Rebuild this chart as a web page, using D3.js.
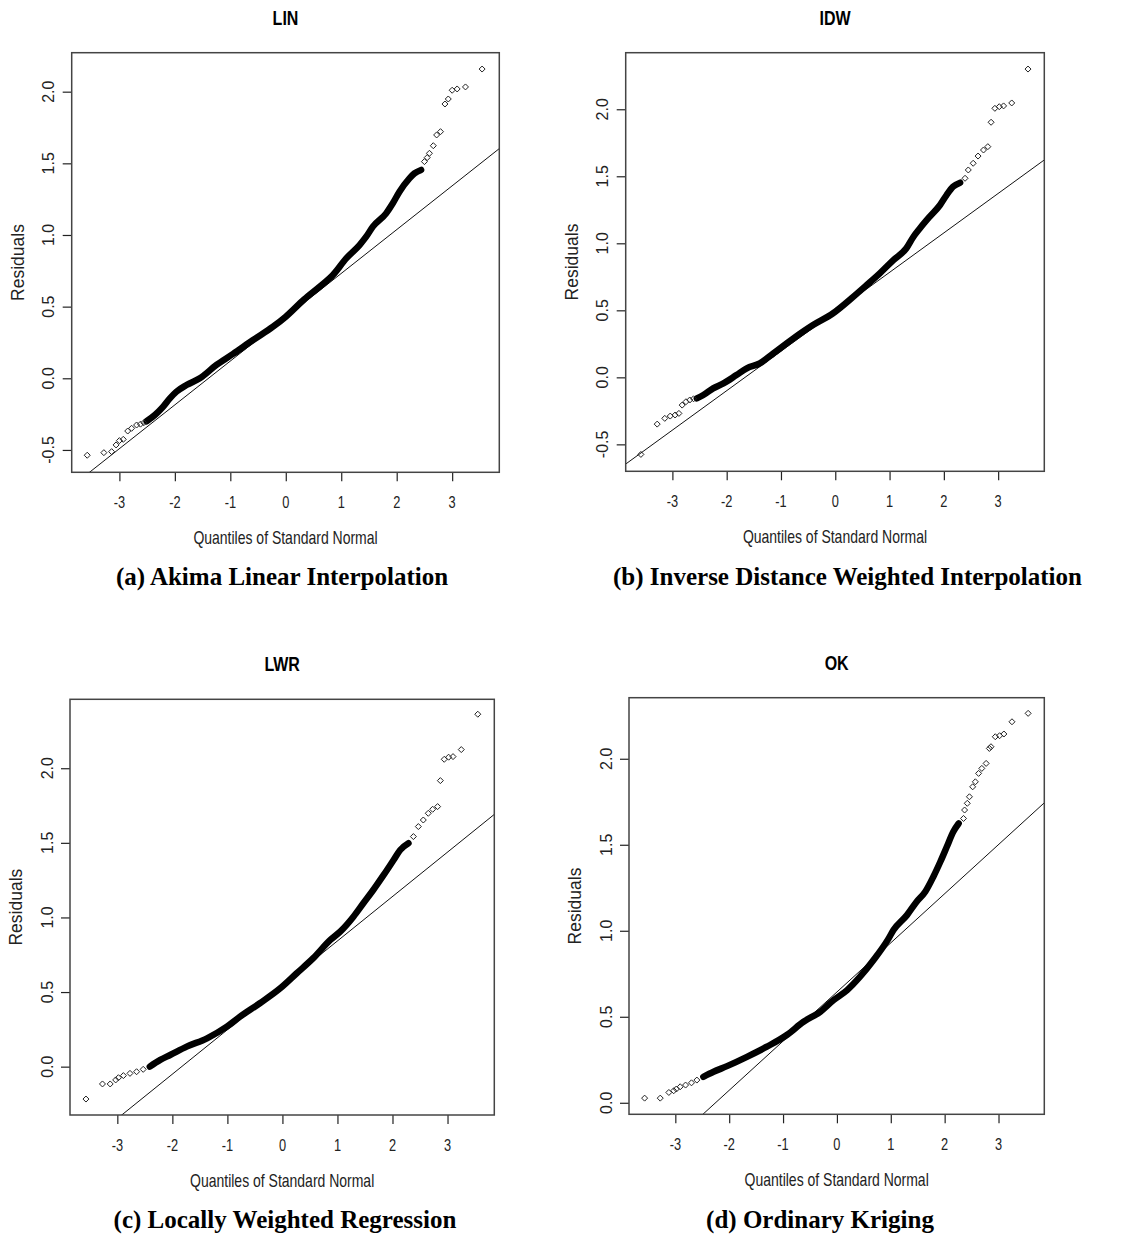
<!DOCTYPE html>
<html>
<head>
<meta charset="utf-8">
<script src="https://cdn.jsdelivr.net/npm/d3@7"></script>
<style>
  body { margin: 0; background: #fff; }
  svg { display: block; }
</style>
</head>
<body>
<svg id="chart" width="1132" height="1236"></svg>
<script>
// ---- data ----
const panelTitles = ["LIN", "IDW", "LWR", "OK"];
const captions = [
    "(a) Akima Linear Interpolation",
    "(b) Inverse Distance Weighted Interpolation",
    "(c) Locally Weighted Regression",
    "(d) Ordinary Kriging"
];
const xTicks = [-3, -2, -1, 0, 1, 2, 3];
const yTicksLIN = [-0.5, 0, 0.5, 1, 1.5, 2];
const yTicksIDW = [-0.5, 0, 0.5, 1, 1.5, 2];
const yTicksLWR = [0, 0.5, 1, 1.5, 2];
const yTicksOK = [0, 0.5, 1, 1.5, 2];

// [quantile, residual] – the dense run of overlapping markers
const linDense = [[-2.51,-0.30],[-2.36,-0.256],[-2.21,-0.198],[-2.09,-0.14],[-1.97,-0.093],[-1.79,-0.047],[-1.55,0.0],[-1.25,0.093],[-0.95,0.17],[-0.59,0.267],[-0.23,0.36],[0.0,0.43],[0.33,0.55],[0.61,0.639],[0.85,0.721],[1.09,0.837],[1.33,0.93],[1.45,0.988],[1.57,1.058],[1.81,1.151],[1.93,1.221],[2.05,1.302],[2.23,1.395],[2.32,1.43],[2.44,1.454]];
const linTail = [[-3.58,-0.537],[-3.28,-0.519],[-3.14,-0.512],[-3.06,-0.465],[-3.00,-0.435],[-2.93,-0.426],[-2.85,-0.368],[-2.78,-0.349],[-2.69,-0.326],[-2.62,-0.32],[-2.56,-0.31],
    [2.50,1.512],[2.55,1.54],[2.59,1.57],[2.66,1.623],[2.72,1.698],[2.79,1.721],[2.87,1.914],[2.93,1.949],[3.00,2.01],[3.09,2.019],[3.24,2.033],[3.54,2.158]];
const linLine = [0.426, 0.3057]; // intercept, slope

const idwDense = [[-2.55,-0.157],[-2.43,-0.132],[-2.25,-0.082],[-2.06,-0.045],[-1.82,0.017],[-1.63,0.067],[-1.39,0.104],[-1.14,0.179],[-0.77,0.291],[-0.41,0.39],[-0.04,0.478],[0.30,0.59],[0.58,0.689],[0.82,0.776],[1.07,0.875],[1.31,0.963],[1.44,1.049],[1.56,1.112],[1.74,1.199],[1.93,1.286],[2.05,1.36],[2.17,1.422],[2.30,1.452]];
const idwTail = [[-3.58,-0.575],[-3.28,-0.349],[-3.14,-0.306],[-3.04,-0.289],[-2.95,-0.281],[-2.88,-0.269],[-2.82,-0.207],[-2.75,-0.182],[-2.68,-0.169],[-2.61,-0.16],
    [2.39,1.485],[2.45,1.547],[2.54,1.597],[2.63,1.651],[2.73,1.696],[2.81,1.721],[2.87,1.903],[2.94,2.007],[3.02,2.019],[3.10,2.025],[3.25,2.047],[3.55,2.30]];
const idwLine = [0.489, 0.2943];

const lwrDense = [[-2.41,0.0],[-2.22,0.045],[-2.04,0.078],[-1.74,0.134],[-1.37,0.19],[-1.01,0.268],[-0.77,0.335],[-0.41,0.425],[-0.04,0.525],[0.26,0.626],[0.56,0.727],[0.87,0.849],[1.05,0.905],[1.29,1.005],[1.47,1.095],[1.65,1.184],[1.84,1.285],[2.02,1.385],[2.14,1.452],[2.29,1.497]];
const lwrTail = [[-3.57,-0.217],[-3.27,-0.116],[-3.13,-0.116],[-3.03,-0.089],[-2.98,-0.074],[-2.89,-0.06],[-2.77,-0.045],[-2.65,-0.034],[-2.53,-0.018],
    [2.38,1.542],[2.47,1.609],[2.56,1.653],[2.65,1.698],[2.73,1.725],[2.82,1.743],[2.87,1.917],[2.94,2.06],[3.02,2.074],[3.10,2.078],[3.25,2.125],[3.55,2.362]];
const lwrLine = [0.545, 0.2976];

const okDense = [[-2.48,0.151],[-2.29,0.18],[-2.04,0.213],[-1.67,0.267],[-1.30,0.326],[-0.93,0.394],[-0.62,0.471],[-0.31,0.529],[-0.06,0.597],[0.19,0.655],[0.43,0.733],[0.68,0.83],[0.95,0.95],[1.05,1.004],[1.30,1.091],[1.48,1.169],[1.64,1.227],[1.79,1.314],[1.92,1.401],[2.04,1.488],[2.16,1.576],[2.26,1.624]];
const okTail = [[-3.57,0.027],[-3.28,0.027],[-3.12,0.06],[-3.03,0.07],[-2.98,0.08],[-2.91,0.093],[-2.81,0.103],[-2.70,0.116],[-2.60,0.132],
    [2.35,1.653],[2.37,1.702],[2.42,1.741],[2.46,1.779],[2.52,1.837],[2.57,1.866],[2.63,1.915],[2.69,1.944],[2.77,1.973],[2.83,2.06],[2.86,2.07],[2.94,2.128],[3.02,2.134],[3.10,2.144],[3.25,2.215],[3.55,2.264]];
const okLine = [0.644, 0.2857];

const xDomain = [-3.86, 3.85];
const yDomains = [[-0.656, 2.272], [-0.701, 2.422], [-0.324, 2.462], [-0.067, 2.355]];

// ---- layout ----
const panels = [
    { box: [71.7, 52.7, 499.3, 472.3], cap: [282, 585], dense: linDense, tail: linTail, line: linLine, yTicks: yTicksLIN },
    { box: [625.7, 52.7, 1044.3, 471.3], cap: [847.5, 585], dense: idwDense, tail: idwTail, line: idwLine, yTicks: yTicksIDW },
    { box: [70, 699.3, 494.3, 1115], cap: [285, 1228], dense: lwrDense, tail: lwrTail, line: lwrLine, yTicks: yTicksLWR },
    { box: [629, 697.7, 1044.3, 1114.3], cap: [820, 1228], dense: okDense, tail: okTail, line: okLine, yTicks: yTicksOK }
];

const svg = d3.select("#chart");
const sans = "'Liberation Sans', Arial, sans-serif";
const diamond = "M0,-3L3,0L0,3L-3,0Z";

panels.forEach((p, i) => {
    const [x0, y0, x1, y1] = p.box;
    const x = d3.scaleLinear().domain(xDomain).range([x0, x1]);
    const y = d3.scaleLinear().domain(yDomains[i]).range([y1, y0]);
    const cx = (x0 + x1) / 2, cy = (y0 + y1) / 2;
    const g = svg.append("g");

    g.append("clipPath").attr("id", "clip" + i)
        .append("rect").attr("x", x0).attr("y", y0).attr("width", x1 - x0).attr("height", y1 - y0);

    // panel title
    g.append("text")
        .attr("transform", `translate(${cx},${y0 - 28}) scale(0.8,1)`)
        .attr("text-anchor", "middle")
        .style("font-family", sans).style("font-weight", "bold").style("font-size", "20px")
        .text(panelTitles[i]);

    // x axis
    const xAxis = g.append("g")
        .attr("transform", `translate(0,${y1})`)
        .call(d3.axisBottom(x).tickValues(xTicks).tickSize(9).tickFormat(""));
    xAxis.select(".domain").remove();
    xAxis.selectAll("line").attr("stroke", "#222").attr("stroke-width", 1.2);
    g.selectAll(".xlab").data(xTicks).enter().append("text")
        .attr("transform", d => `translate(${x(d)},${y1 + 35.5}) scale(0.8,1)`)
        .attr("text-anchor", "middle")
        .style("font-family", sans).style("font-size", "16px").attr("fill", "#222")
        .text(d => String(d));

    // y axis
    const yAxis = g.append("g")
        .attr("transform", `translate(${x0},0)`)
        .call(d3.axisLeft(y).tickValues(p.yTicks).tickSize(9).tickFormat(""));
    yAxis.select(".domain").remove();
    yAxis.selectAll("line").attr("stroke", "#222").attr("stroke-width", 1.2);
    g.selectAll(".ylab").data(p.yTicks).enter().append("text")
        .attr("transform", d => `translate(${x0 - 17.5},${y(d)}) rotate(-90)`)
        .attr("text-anchor", "middle")
        .style("font-family", sans).style("font-size", "16px").attr("fill", "#222")
        .text(d => d.toFixed(1));

    // axis titles
    g.append("text")
        .attr("transform", `translate(${cx},${y1 + 72}) scale(0.8,1)`)
        .attr("text-anchor", "middle")
        .style("font-family", sans).style("font-size", "17.5px").attr("fill", "#222")
        .text("Quantiles of Standard Normal");
    g.append("text")
        .attr("transform", `translate(${x0 - 48},${cy}) rotate(-90)`)
        .attr("text-anchor", "middle")
        .style("font-family", sans).style("font-size", "17.5px").attr("fill", "#222")
        .text("Residuals");

    const plot = g.append("g").attr("clip-path", `url(#clip${i})`);

    // qqline
    plot.append("line")
        .attr("x1", x(xDomain[0])).attr("y1", y(p.line[0] + p.line[1] * xDomain[0]))
        .attr("x2", x(xDomain[1])).attr("y2", y(p.line[0] + p.line[1] * xDomain[1]))
        .attr("stroke", "#111").attr("stroke-width", 1);

    // dense band of overlapping markers
    plot.append("path")
        .datum(p.dense)
        .attr("d", d3.line().x(d => x(d[0])).y(d => y(d[1])).curve(d3.curveMonotoneX))
        .attr("fill", "none").attr("stroke", "#000")
        .attr("stroke-width", 6.5).attr("stroke-linecap", "round").attr("stroke-linejoin", "round");

    // individual markers in the tails
    plot.selectAll(".pt").data(p.tail).enter().append("path")
        .attr("d", diamond)
        .attr("transform", d => `translate(${x(d[0])},${y(d[1])})`)
        .attr("fill", "none").attr("stroke", "#222").attr("stroke-width", 1);

    // frame
    g.append("rect")
        .attr("x", x0).attr("y", y0).attr("width", x1 - x0).attr("height", y1 - y0)
        .attr("fill", "none").attr("stroke", "#444").attr("stroke-width", 1.5);

    // caption
    g.append("text")
        .attr("x", p.cap[0]).attr("y", p.cap[1])
        .attr("text-anchor", "middle")
        .style("font-family", "'Liberation Serif', 'Times New Roman', serif")
        .style("font-weight", "bold").style("font-size", "25px")
        .text(captions[i]);
});
</script>
</body>
</html>
